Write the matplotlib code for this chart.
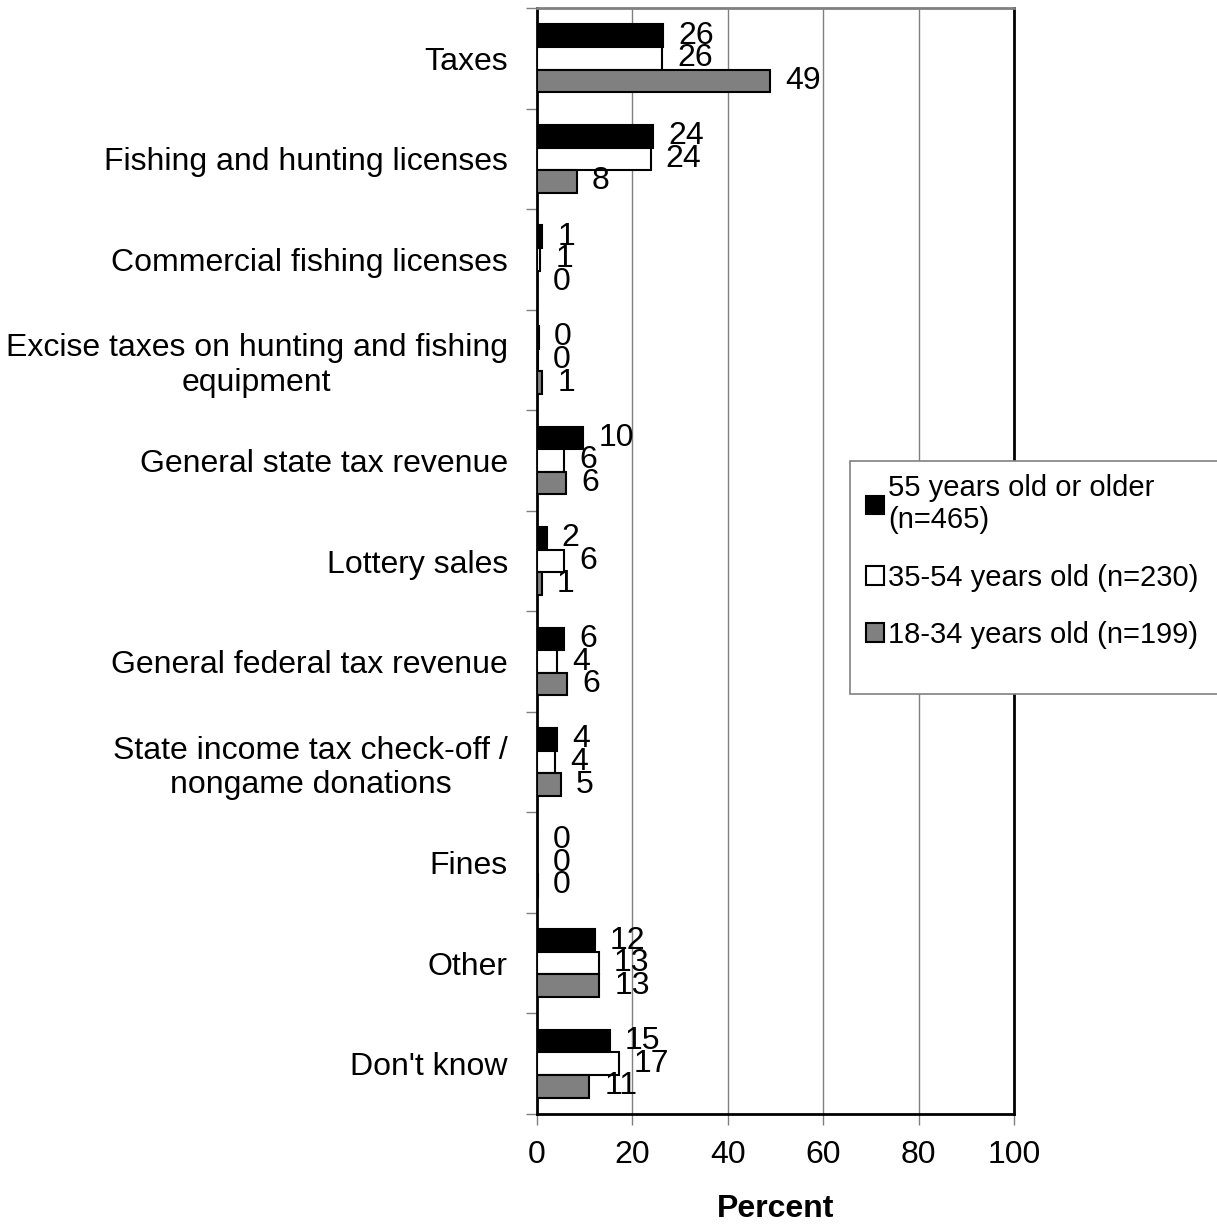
import matplotlib
matplotlib.use("Agg")
import matplotlib.pyplot as plt
import numpy as np
from matplotlib.patches import Rectangle, Patch

plt.rcParams['font.family'] = ['Liberation Sans', 'DejaVu Sans']

categories = [
    "Taxes",
    "Fishing and hunting licenses",
    "Commercial fishing licenses",
    "Excise taxes on hunting and fishing\nequipment",
    "General state tax revenue",
    "Lottery sales",
    "General federal tax revenue",
    "State income tax check-off /\nnongame donations",
    "Fines",
    "Other",
    "Don't know",
]
series_names = [
    "55 years old or older\n(n=465)",
    "35-54 years old (n=230)",
    "18-34 years old (n=199)",
]
age55 = [26.4, 24.4, 1.1, 0.4, 9.7, 2.0, 5.7, 4.1, 0.0, 12.1, 15.2]
age35 = [26.3, 23.8, 0.6, 0.2, 5.7, 5.7, 4.1, 3.7, 0.0, 12.9, 17.1]
age18 = [48.8, 8.3, 0.0, 1.1, 6.1, 1.0, 6.3, 5.0, 0.2, 13.1, 10.9]
colors = ["#000000", "#ffffff", "#808080"]
xticks = [0, 20, 40, 60, 80, 100]

W, H = 1217, 1224
fig = plt.figure(figsize=(W / 100, H / 100), dpi=100)
ax = fig.add_axes([537 / W, 1 - 1114 / H, (1014 - 537) / W, (1114 - 8) / H])

FS = 23
n = len(categories)
y = np.arange(n)
bh = 0.225
for i, (vals, c) in enumerate(zip([age55, age35, age18], colors)):
    pos = y + (i - 1) * bh
    ax.barh(pos, vals, height=bh, color=c, edgecolor="black", linewidth=1.5,
            zorder=3, label=series_names[i])
    for p, v in zip(pos, vals):
        ax.text(v + 3.2, p, f"{round(v):d}", va="center", ha="left",
                fontsize=FS, zorder=4)

ax.set_xlim(0, 100)
ax.set_ylim(n - 0.5, -0.5)
ax.set_xticks(xticks)
ax.set_xticklabels([str(t) for t in xticks], fontsize=FS)
ax.tick_params(axis="x", length=8, width=1, color="#808080", pad=11)
ax.set_yticks(y)
ax.set_yticklabels(categories, fontsize=FS, multialignment="center")
ax.tick_params(axis="y", which="major", length=0, pad=21)
ax.set_yticks(np.arange(n + 1) - 0.5, minor=True)
ax.tick_params(axis="y", which="minor", length=8, width=1, color="#808080")
ax.grid(axis="x", color="#808080", linewidth=1, zorder=0)
ax.set_axisbelow(True)
for s in ["left", "bottom", "right"]:
    ax.spines[s].set_color("black")
    ax.spines[s].set_linewidth(2)
ax.spines["top"].set_color("#808080")
ax.spines["top"].set_linewidth(2)
ax.set_xlabel("Percent", fontsize=FS, fontweight="bold", labelpad=17)

# legend box
fig.patches.append(Rectangle((850 / W, 1 - 694 / H), (W - 850 + 20) / W, (694 - 461) / H,
                             transform=fig.transFigure, facecolor="white",
                             edgecolor="#808080", linewidth=1.2, zorder=5))
handles = [Patch(facecolor=c, edgecolor="black", linewidth=1.5) for c in colors]
leg = fig.legend(handles, series_names, loc="upper left",
                 bbox_to_anchor=(866 / W, 1 - 474 / H), frameon=False,
                 borderpad=0, borderaxespad=0,
                 fontsize=21, handlelength=0.6, handleheight=0.6,
                 handletextpad=0.15, labelspacing=1.0)
leg.set_zorder(6)

fig.savefig("out.png", dpi=100)
